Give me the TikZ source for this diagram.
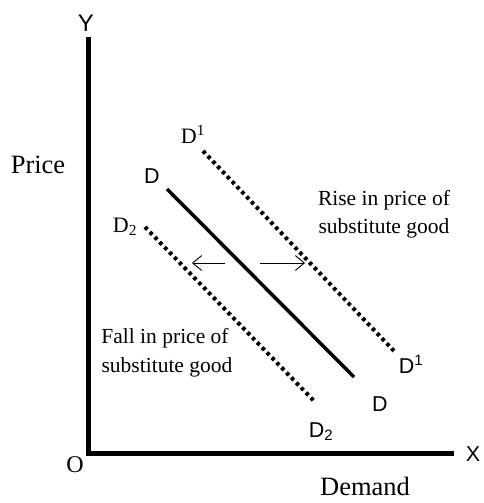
\documentclass[tikz,border=0pt]{standalone}
\usepackage{fontspec}
\setmainfont{Liberation Serif}
\setsansfont{Liberation Sans}
\usetikzlibrary{arrows.meta}
\begin{document}
\begin{tikzpicture}[x=1pt,y=-1pt,
  axis/.style={line width=5pt},
  curve/.style={line width=3.5pt},
  dotcurve/.style={line width=4pt,dash pattern=on 3.5pt off 3.5pt},
  shiftarrow/.style={line width=0.9pt,-{Straight Barb[length=9pt,width=15pt,line width=0.9pt]}},
  bigserif/.style={font=\fontsize{26.5}{30}\selectfont\rmfamily,inner sep=0pt,anchor=base},
  serif/.style={font=\fontsize{22}{26}\selectfont\rmfamily,inner sep=0pt,anchor=base},
  sans/.style={font=\fontsize{21.5}{26}\selectfont\sffamily,inner sep=0pt,anchor=base},
  lbl/.style={font=\fontsize{21.5}{26}\selectfont\rmfamily,inner sep=0pt,anchor=base}]
\useasboundingbox (0,0) rectangle (484,503);
% axes
\coordinate (top) at (88,37);
\coordinate (orig) at (88,453);
\coordinate (right) at (454,453);
\draw[axis] (top) -- (orig) -- (right);
\node[sans,font=\fontsize{24}{28}\selectfont\sffamily] (ylab) at (86,32) {Y};
\node[sans] (xlab) at (473,461) {X};
\node[bigserif,font=\fontsize{24}{28}\selectfont\rmfamily] (olab) at (75,472) {O};
\node[bigserif] (price) at (38,173) {Price};
\node[bigserif] (demand) at (365,495) {Demand};
% D
\coordinate (d0) at (167,189);
\coordinate (d1) at (354,377);
\draw[curve] (d0) -- (d1);
\node[sans] (dtop) at (152,183) {D};
\node[sans] (dbot) at (380,411) {D};
% D1
\coordinate (u0) at (203,151);
\coordinate (u1) at (395,352);
\draw[dotcurve] (u0) -- (u1);
\node[serif] (utop) at (193,143) {D\textsuperscript{1}};
\node[sans] (ubot) at (411,373) {D\textsuperscript{1}};
% D2
\coordinate (w0) at (145,227);
\coordinate (w1) at (315,402);
\draw[dotcurve] (w0) -- (w1);
\node[serif] (wtop) at (125,232) {D\textsubscript{2}};
\node[sans] (wbot) at (321,437) {D\textsubscript{2}};
% arrows
\coordinate (la0) at (225,263);
\coordinate (la1) at (192,263);
\coordinate (ra0) at (260,263);
\coordinate (ra1) at (305,263);
\draw[shiftarrow] (la0) -- (la1);
\draw[shiftarrow] (ra0) -- (ra1);
% labels
\node[lbl] (rise1) at (384,205) {Rise in price of};
\node[lbl] (rise2) at (384,233) {substitute good};
\node[lbl] (fall1) at (165,343) {Fall in price of};
\node[lbl] (fall2) at (167,372) {substitute good};
\end{tikzpicture}
\end{document}
